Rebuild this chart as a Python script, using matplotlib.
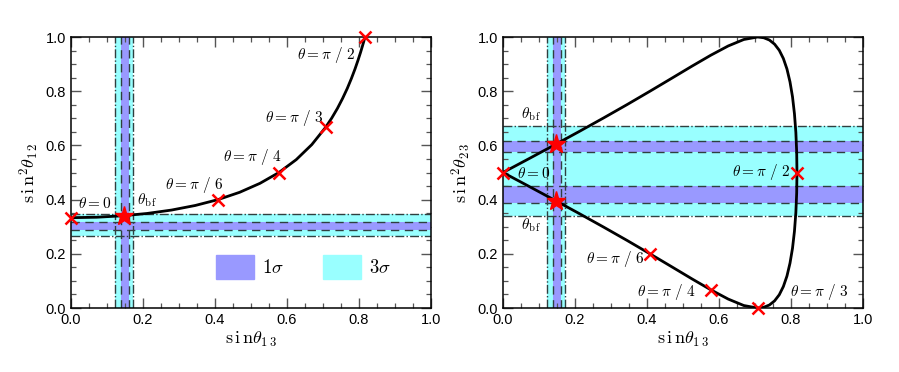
import matplotlib
matplotlib.use('Agg')
import matplotlib.pyplot as plt
from matplotlib.patches import Patch

plt.rcParams['font.family'] = ['Liberation Sans', 'DejaVu Sans']
plt.rcParams['mathtext.fontset'] = 'cm'

# curve (sin theta13 along the curve)
s13 = [0.0, 0.0712, 0.1418, 0.2113, 0.2793, 0.3451, 0.4082, 0.4683, 0.5248,
       0.5774, 0.6255, 0.6688, 0.7071, 0.7242, 0.7400, 0.7543, 0.7673, 0.7787,
       0.7887, 0.7971, 0.8041, 0.8095, 0.8134, 0.8157, 0.8165]
# left panel: sin^2 theta12
s12 = [0.3333, 0.3350, 0.3402, 0.3489, 0.3615, 0.3784, 0.4000, 0.4270, 0.4601,
       0.5000, 0.5475, 0.6031, 0.6667, 0.7011, 0.7368, 0.7735, 0.8104, 0.8469,
       0.8819, 0.9143, 0.9431, 0.9671, 0.9850, 0.9962, 1.0000]
# right panel: sin^2 theta23, lower and upper branch
s23_lo = [0.5000, 0.4496, 0.3992, 0.3489, 0.2987, 0.2490, 0.2000, 0.1525, 0.1076,
          0.0670, 0.0330, 0.0092, 0.0000, 0.0027, 0.0112, 0.0264, 0.0489, 0.0793,
          0.1181, 0.1654, 0.2206, 0.2832, 0.3519, 0.4248, 0.5000]
s23_hi = [0.5000, 0.5504, 0.6008, 0.6511, 0.7013, 0.7510, 0.8000, 0.8475, 0.8924,
          0.9330, 0.9670, 0.9908, 1.0000, 0.9973, 0.9888, 0.9736, 0.9511, 0.9207,
          0.8819, 0.8346, 0.7794, 0.7168, 0.6481, 0.5752, 0.5000]

# marked points
mk_x = [0.0, 0.4082, 0.5774, 0.7071, 0.8165]
mk_s12 = [0.3333, 0.4000, 0.5000, 0.6667, 1.0000]
mk_s23 = [0.5000, 0.2000, 0.0670, 0.0000, 0.5000]
bf_s13 = 0.148
bf_s12 = 0.341
bf_s23 = [0.606, 0.394]

# allowed ranges (1 sigma, 3 sigma)
s13_1s = (0.140, 0.160)
s13_3s = (0.123, 0.172)
s12_1s = (0.287, 0.317)
s12_3s = (0.266, 0.346)
s23_1s = [(0.388, 0.452), (0.574, 0.618)]
s23_3s = (0.340, 0.670)

purple = '#9999ff'
cyan = '#99ffff'
lc = '#2f3f3f'

fig = plt.figure(figsize=(8.99, 3.72), dpi=100)
ax1 = fig.add_axes([0.079, 0.172, 0.4005, 0.7285])
ax2 = fig.add_axes([0.5595, 0.172, 0.4005, 0.7285])


def style(ax):
    ax.set_xlim(0, 1)
    ax.set_ylim(0, 1)
    ax.set_xticks([0, 0.2, 0.4, 0.6, 0.8, 1.0])
    ax.set_yticks([0, 0.2, 0.4, 0.6, 0.8, 1.0])
    ax.set_xticks([i * 0.05 for i in range(21)], minor=True)
    ax.set_yticks([i * 0.05 for i in range(21)], minor=True)
    ax.tick_params(which='both', direction='in', top=True, right=True,
                   labelsize=10.5, color='#555555')
    ax.tick_params(which='major', length=7, width=1)
    ax.tick_params(which='minor', length=3.5, width=0.9)
    for sp in ax.spines.values():
        sp.set_linewidth(1.1)


def vband(ax):
    ax.axvspan(*s13_3s, color=cyan, lw=0)
    ax.axvspan(*s13_1s, color=purple, lw=0, zorder=1.5)
    for v in s13_3s:
        ax.axvline(v, color=lc, ls='-.', lw=1.0, zorder=2)
    for v in s13_1s:
        ax.axvline(v, color=lc, ls=(0, (6, 4)), lw=1.0, zorder=2)


bf = r'$\theta_{\mathrm{b}\,\mathrm{f}}$'
tk = dict(fontsize=11, va='center')

# left panel
ax = ax1
ax.axhspan(*s12_3s, color=cyan, lw=0)
vband(ax)
ax.axhspan(*s12_1s, color=purple, lw=0, zorder=1.6)
for v in s12_3s:
    ax.axhline(v, color=lc, ls='-.', lw=1.0, zorder=2)
for v in s12_1s:
    ax.axhline(v, color=lc, ls=(0, (6, 4)), lw=1.0, zorder=2)
ax.plot(s13, s12, color='black', lw=2, zorder=3)
ax.plot(mk_x, mk_s12, 'x', color='red', ms=8, mew=1.8, zorder=4, clip_on=False)
ax.plot([bf_s13], [bf_s12], '*', color='red', ms=14, zorder=4)
ax.text(0.02, 0.385, r'$\theta=0$', **tk)
ax.text(0.183, 0.398, bf, **tk)
ax.text(0.261, 0.454, r'$\theta=\pi\ /\ 6$', **tk)
ax.text(0.422, 0.557, r'$\theta=\pi\ /\ 4$', **tk)
ax.text(0.539, 0.701, r'$\theta=\pi\ /\ 3$', **tk)
ax.text(0.628, 0.934, r'$\theta=\pi\ /\ 2$', **tk)
ax.legend(handles=[Patch(color=purple, label=r'$1\sigma$'),
                   Patch(color=cyan, label=r'$3\sigma$')],
          ncol=2, frameon=False, loc='lower left', bbox_to_anchor=(0.355, 0.045),
          handlelength=2.05, handleheight=1.6, columnspacing=2.1, fontsize=13.5,
          handletextpad=0.4)
ax.set_xlabel(r'$\mathrm{s\,i\,n}\theta_{1\,3}$', fontsize=13, labelpad=2)
ax.set_ylabel(r'$\mathrm{s\,i\,n}^2\theta_{1\,2}$', fontsize=13, labelpad=3)
style(ax)

# right panel
ax = ax2
ax.axhspan(*s23_3s, color=cyan, lw=0)
vband(ax)
for lo, hi in s23_1s:
    ax.axhspan(lo, hi, color=purple, lw=0, zorder=1.6)
    ax.axhline(lo, color=lc, ls=(0, (6, 4)), lw=1.0, zorder=2)
    ax.axhline(hi, color=lc, ls=(0, (6, 4)), lw=1.0, zorder=2)
for v in s23_3s:
    ax.axhline(v, color=lc, ls='-.', lw=1.0, zorder=2)
ax.plot(s13, s23_lo, color='black', lw=2, zorder=3)
ax.plot(s13, s23_hi, color='black', lw=2, zorder=3)
ax.plot(mk_x, mk_s23, 'x', color='red', ms=8, mew=1.8, zorder=4, clip_on=False)
ax.plot([bf_s13, bf_s13], bf_s23, '*', color='red', ms=14, zorder=4)
ax.text(0.05, 0.716, bf, **tk)
ax.text(0.05, 0.306, bf, **tk)
ax.text(0.039, 0.498, r'$\theta=0$', **tk)
ax.text(0.231, 0.181, r'$\theta=\pi\ /\ 6$', **tk)
ax.text(0.372, 0.059, r'$\theta=\pi\ /\ 4$', **tk)
ax.text(0.797, 0.059, r'$\theta=\pi\ /\ 3$', **tk)
ax.text(0.636, 0.502, r'$\theta=\pi\ /\ 2$', **tk)
ax.set_xlabel(r'$\mathrm{s\,i\,n}\theta_{1\,3}$', fontsize=13, labelpad=2)
ax.set_ylabel(r'$\mathrm{s\,i\,n}^2\theta_{2\,3}$', fontsize=13, labelpad=3)
style(ax)

fig.savefig('out.png', dpi=100)
